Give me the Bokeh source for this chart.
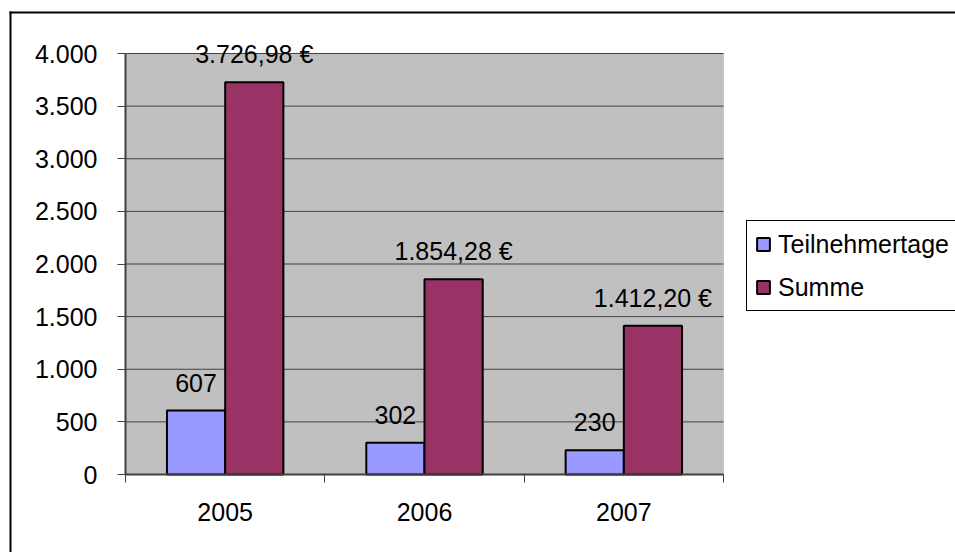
from bokeh.plotting import figure
from bokeh.models import (ColumnDataSource, Range1d, FixedTicker, LabelSet, Legend,
                          LegendItem, BoxAnnotation, LinearAxis)
from bokeh.embed import file_html
from bokeh.resources import INLINE
from bokeh.core.properties import value

# ---- data ----
years = ["2005", "2006", "2007"]
teilnehmertage = [607, 302, 230]
summe = [3726.98, 1854.28, 1412.20]
y_ticks = [0, 500, 1000, 1500, 2000, 2500, 3000, 3500, 4000]
series_names = ["Teilnehmertage", "Summe"]

FONT = "Liberation Sans"
FS = "25px"
BLUE = "#9999FF"
RED = "#993366"
AXC = "#404040"

W, H = 955, 552
# plot-area placement in pixels (layout)
PL, PR, PT, PB = 125, 723, 53, 474


def de_int(v):
    return f"{v:,}".replace(",", ".")


def de_eur(v):
    s = f"{v:,.2f}".replace(",", "X").replace(".", ",").replace("X", ".")
    return s + " €"


n = len(years)
ymax = y_ticks[-1]
xs = (PR - PL) / n            # px per category
ys = (PB - PT) / ymax         # px per unit
x_range = Range1d(-PL / xs, n + (W - PR) / xs)
y_range = Range1d(-(H - PB) / ys, ymax + PT / ys)


def px_x(px):
    return (px - PL) / xs


def px_y(py):
    return (PB - py) / ys


centers = [i + 0.5 for i in range(n)]
bw = 0.292
off = 0.146

src_t = ColumnDataSource(dict(x=[c - off for c in centers], top=teilnehmertage,
                              lab=[str(v) for v in teilnehmertage]))
src_s = ColumnDataSource(dict(x=[c + off for c in centers], top=summe,
                              lab=[de_eur(v) for v in summe]))

p = figure(width=W, height=H, output_backend="svg", toolbar_location=None,
           x_range=x_range, y_range=y_range,
           min_border=0, x_axis_type=None, y_axis_type=None)
p.background_fill_color = "white"
p.border_fill_color = "white"
p.outline_line_color = None
p.xgrid.visible = False
p.ygrid.visible = False

# plot area background
p.add_layout(BoxAnnotation(left=0, right=n, bottom=0, top=ymax,
                           fill_color="#C0C0C0", fill_alpha=1,
                           line_color="#909090", line_width=1, level="underlay"))

# gridlines
p.segment(x0=0, x1=n, y0=y_ticks, y1=y_ticks, line_color=AXC, line_width=1)

# y axis
yax = LinearAxis(ticker=FixedTicker(ticks=y_ticks), fixed_location=0, bounds=(0, ymax))
yax.major_label_overrides = {t: de_int(t) for t in y_ticks}
yax.major_label_text_font = FONT
yax.major_label_text_font_size = FS
yax.major_label_text_color = "black"
yax.axis_line_color = AXC
yax.axis_line_width = 2
yax.major_tick_line_color = AXC
yax.major_tick_line_width = 1
yax.major_tick_out = 8
yax.major_tick_in = 0
yax.minor_tick_out = 0
yax.major_label_standoff = 20
p.add_layout(yax, "left")

# x axis: labels at centers, ticks at category boundaries
xax = LinearAxis(ticker=FixedTicker(ticks=centers, minor_ticks=list(range(n + 1))),
                 fixed_location=0, bounds=(0, n))
xax.major_label_overrides = {c: y for c, y in zip(centers, years)}
xax.major_label_text_font = FONT
xax.major_label_text_font_size = FS
xax.major_label_text_color = "black"
xax.axis_line_color = AXC
xax.axis_line_width = 2
xax.major_tick_out = 0
xax.major_tick_in = 0
xax.minor_tick_out = 8
xax.minor_tick_in = 0
xax.minor_tick_line_color = AXC
xax.minor_tick_line_width = 1
xax.major_label_standoff = 20
p.add_layout(xax, "below")

r1 = p.vbar(x="x", top="top", width=bw, source=src_t, fill_color=BLUE,
            line_color="black", line_width=2)
r2 = p.vbar(x="x", top="top", width=bw, source=src_s, fill_color=RED,
            line_color="black", line_width=2)

for src in (src_t, src_s):
    ls = LabelSet(x="x", y="top", text="lab", source=src, text_align="center",
                  text_baseline="alphabetic", y_offset=19,
                  text_font=value(FONT), text_font_size=FS, text_color="black")
    p.add_layout(ls)

legend = Legend(items=[LegendItem(label=series_names[0], renderers=[r1]),
                       LegendItem(label=series_names[1], renderers=[r2])],
                location=(746, 241))
legend.label_text_font = FONT
legend.label_text_font_size = FS
legend.label_text_color = "black"
legend.glyph_width = 16
legend.glyph_height = 16
legend.label_height = 30
legend.label_standoff = 7
legend.padding = 8
legend.margin = 0
legend.spacing = 13
legend.border_line_color = "black"
legend.border_line_width = 1
legend.border_line_alpha = 1
legend.background_fill_color = "white"
legend.background_fill_alpha = 1
p.add_layout(legend)

# outer chart border (decoration): left and top edges, placed in pixel positions
p.quad(left=[px_x(9), px_x(9)], right=[px_x(11), px_x(W + 20)],
       top=[px_y(11), px_y(11)], bottom=[px_y(H + 20), px_y(13)],
       fill_color="black", line_color=None)

open("out.html", "w").write(file_html(p, INLINE))
